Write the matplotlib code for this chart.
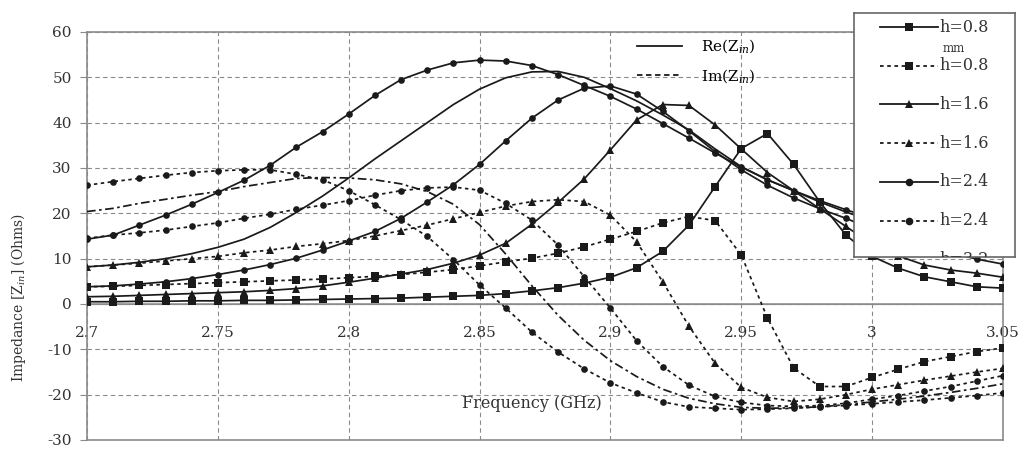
#script to redraw the input impedance vs frequency chart for several substrate heights

import matplotlib
matplotlib.use('Agg')
import matplotlib.pyplot as plt
from matplotlib.lines import Line2D

plt.rcParams['font.family'] = ['DejaVu Serif']
plt.rcParams['mathtext.fontset'] = 'dejavuserif'
plt.rcParams['axes.unicode_minus'] = False

freq = [2.70, 2.71, 2.72, 2.73, 2.74, 2.75, 2.76, 2.77, 2.78, 2.79,
        2.80, 2.81, 2.82, 2.83, 2.84, 2.85, 2.86, 2.87, 2.88, 2.89,
        2.90, 2.91, 2.92, 2.93, 2.94, 2.95, 2.96, 2.97, 2.98, 2.99,
        3.00, 3.01, 3.02, 3.03, 3.04, 3.05]

# real part of Zin (ohms)
re_08 = [0.5, 0.5, 0.6, 0.6, 0.7, 0.7, 0.8, 0.8, 0.9, 1.0,
         1.1, 1.2, 1.3, 1.5, 1.7, 1.9, 2.3, 2.9, 3.6, 4.6,
         5.9, 8.0, 11.6, 17.4, 25.9, 34.3, 37.6, 30.8, 22.5, 15.2,
         10.5, 7.9, 6.0, 4.9, 3.8, 3.5]
re_16 = [1.6, 1.7, 1.9, 2.1, 2.3, 2.5, 2.7, 3.0, 3.4, 4.0,
         4.8, 5.7, 6.6, 7.6, 9.0, 10.8, 13.4, 17.6, 22.4, 27.6,
         34.0, 40.6, 44.0, 43.8, 39.5, 34.2, 29.0, 25.0, 21.0, 17.1,
         13.2, 10.6, 8.6, 7.5, 6.8, 5.9]
re_24 = [3.8, 4.0, 4.4, 4.9, 5.6, 6.5, 7.5, 8.7, 10.1, 11.9,
         13.9, 16.0, 18.9, 22.5, 26.3, 30.8, 36.0, 41.0, 45.0, 47.6,
         48.1, 46.3, 42.5, 38.2, 33.6, 29.6, 26.2, 23.4, 21.0, 18.9,
         16.5, 14.6, 12.9, 11.3, 9.9, 8.8]
re_32 = [8.2, 8.6, 9.2, 10.0, 11.1, 12.5, 14.3, 16.9, 20.2, 23.8,
         27.8, 32.0, 36.0, 40.0, 44.0, 47.4, 49.9, 51.2, 51.3, 50.0,
         47.5, 44.8, 41.7, 38.4, 34.2, 30.3, 27.4, 25.0, 22.5, 20.3,
         18.3, 16.5, 14.8, 13.3, 11.9, 10.6]
re_40 = [14.3, 15.2, 17.4, 19.6, 22.0, 24.6, 27.3, 30.6, 34.6, 38.0,
         41.9, 46.0, 49.5, 51.6, 53.2, 53.8, 53.6, 52.6, 50.6, 48.2,
         45.8, 43.0, 39.8, 36.6, 33.3, 30.2, 27.4, 25.0, 22.8, 20.8,
         18.9, 17.2, 15.6, 14.2, 12.9, 11.7]

# imaginary part of Zin (ohms)
im_08 = [3.8, 3.9, 4.1, 4.3, 4.5, 4.7, 4.9, 5.1, 5.3, 5.5,
         5.8, 6.1, 6.5, 7.0, 7.6, 8.4, 9.3, 10.1, 11.2, 12.6,
         14.3, 16.0, 17.9, 19.3, 18.4, 10.8, -3.1, -14.1, -18.2, -18.2,
         -16.2, -14.4, -12.7, -11.6, -10.5, -9.7]
im_16 = [8.2, 8.6, 9.0, 9.5, 10.0, 10.5, 11.3, 11.9, 12.7, 13.3,
         14.0, 15.0, 16.2, 17.4, 18.8, 20.2, 21.6, 22.6, 23.0, 22.6,
         19.6, 13.7, 4.9, -4.9, -13.1, -18.4, -20.6, -21.5, -21.0, -20.0,
         -18.8, -17.8, -16.8, -15.9, -15.0, -14.2]
im_24 = [14.5, 15.2, 15.7, 16.3, 17.1, 17.9, 18.9, 19.8, 20.9, 21.8,
         22.8, 24.0, 25.0, 25.6, 25.8, 25.1, 22.2, 18.5, 13.0, 6.0,
         -0.9, -8.1, -13.8, -17.9, -20.4, -21.7, -22.4, -22.6, -22.4, -21.9,
         -21.0, -20.2, -19.2, -18.2, -17.0, -15.8]
im_32 = [20.4, 21.1, 22.2, 23.1, 24.0, 24.8, 25.9, 26.8, 27.7, 27.9,
         27.8, 27.4, 26.5, 24.8, 22.0, 17.5, 11.0, 4.0, -2.5, -8.0,
         -12.5, -16.0, -18.8, -20.8, -22.0, -22.8, -23.0, -22.9, -22.7, -22.2,
         -21.6, -21.0, -20.3, -19.5, -18.6, -17.6]
im_40 = [26.2, 27.0, 27.7, 28.4, 29.0, 29.4, 29.6, 29.6, 28.6, 27.4,
         25.0, 21.9, 18.6, 14.9, 9.8, 4.2, -0.9, -6.2, -10.6, -14.3,
         -17.4, -19.6, -21.6, -22.7, -23.0, -23.3, -23.2, -23.0, -22.7, -22.4,
         -22.0, -21.6, -21.2, -20.7, -20.2, -19.6]

x_ticks = [2.7, 2.75, 2.8, 2.85, 2.9, 2.95, 3.0, 3.05]
x_tick_labels = ['2.7', '2.75', '2.8', '2.85', '2.9', '2.95', '3', '3.05']
y_ticks = [-30, -20, -10, 0, 10, 20, 30, 40, 50, 60]

legend_labels = ['h=0.8', 'h=0.8', 'h=1.6', 'h=1.6', 'h=2.4', 'h=2.4', 'h=3.2']

INK = '#1a1a1a'
GREY = '#8a8a8a'
DOT = (0, (2, 2))


def main():
    fig = plt.figure(figsize=(10.26, 4.5), dpi=100)
    fig.patch.set_facecolor('white')
    ax = fig.add_axes([87 / 1026, 1 - 440 / 450, 916 / 1026, 408 / 450])

    series = [
        (re_40, '-', 'o', 4.8),
        (re_32, '-', None, 0),
        (re_24, '-', 'o', 4.8),
        (re_16, '-', '^', 5.5),
        (re_08, '-', 's', 5.2),
        (im_40, DOT, 'o', 4.8),
        (im_32, (0, (5, 2, 1.5, 2)), None, 0),
        (im_24, DOT, 'o', 4.8),
        (im_16, DOT, '^', 5.5),
        (im_08, DOT, 's', 5.2),
    ]
    for vals, ls, mk, ms in series:
        ax.plot(freq, vals, color=INK, lw=1.25, linestyle=ls, marker=mk,
                markersize=ms, markeredgewidth=0, zorder=3)

    ax.set_xlim(2.7, 3.05)
    ax.set_ylim(-30, 60)
    ax.set_xticks(x_ticks)
    ax.set_xticklabels(x_tick_labels)
    ax.set_yticks(y_ticks)

    ax.grid(True, color=GREY, linestyle=(0, (4, 3)), lw=0.8)
    ax.set_axisbelow(True)
    ax.axhline(0, color=GREY, lw=1.1, zorder=2)
    ax.axhline(-30, color=GREY, lw=1.2, clip_on=False, zorder=2)

    for side in ['top', 'left', 'right']:
        ax.spines[side].set_color(GREY)
        ax.spines[side].set_linewidth(1.2)
    ax.spines['bottom'].set_position(('data', 0))
    ax.spines['bottom'].set_color(GREY)

    ax.tick_params(axis='x', length=0, pad=16, labelsize=11, colors='#333333')
    ax.tick_params(axis='y', length=5, width=0.8, color=GREY, pad=6,
                   labelsize=11, labelcolor='#333333')

    ax.text(2.87, -22, 'Frequency (GHz)', ha='center', va='center',
            fontsize=11.5, color='#333333', zorder=4)
    ax.set_ylabel('Impedance [Z$_{in}$] (Ohms)', fontsize=10, color='#333333')
    ax.yaxis.set_label_coords(-0.064, 0.35)

    # Re / Im key
    key = [Line2D([], [], color=INK, lw=1.3),
           Line2D([], [], color=INK, lw=1.3, linestyle=(0, (3, 2)))]
    ax.legend(key, ['Re(Z$_{in}$)', 'Im(Z$_{in}$)'], loc='upper left',
              bbox_to_anchor=(0.585, 1.02), frameon=False, fontsize=11,
              handlelength=3.0, handletextpad=1.2, labelspacing=0.75)

    # boxed series key, cut off at the bottom as in the source figure
    lax = fig.add_axes([854 / 1026, 1 - 257 / 450, 161 / 1026, 244 / 450])
    lax.set_xlim(0, 1)
    lax.set_ylim(0, 1)
    lax.set_xticks([])
    lax.set_yticks([])
    for s in lax.spines.values():
        s.set_color('#666666')
        s.set_linewidth(1.2)
    styles = [('-', 's'), (DOT, 's'), ('-', '^'), (DOT, '^'),
              ('-', 'o'), (DOT, 'o'), ('-', None)]
    step = 38.7 / 244
    for i, (lab, (ls, mk)) in enumerate(zip(legend_labels, styles)):
        yy = 1 - (14 + i * 38.7) / 244
        lax.plot([0.16, 0.52], [yy, yy], color=INK, lw=1.3, linestyle=ls)
        if mk:
            lax.plot([0.34], [yy], color=INK, marker=mk, markersize=5.5,
                     markeredgewidth=0)
        lax.text(0.53, yy, lab, ha='left', va='center', fontsize=11.5,
                 color='#333333', clip_on=True)
    lax.text(0.55, 1 - 14 / 244 - step * 0.55, 'mm', ha='left', va='center',
             fontsize=8.5, color='#333333')

    fig.savefig('out.png', dpi=100, facecolor='white')


if __name__ == '__main__':
    main()
